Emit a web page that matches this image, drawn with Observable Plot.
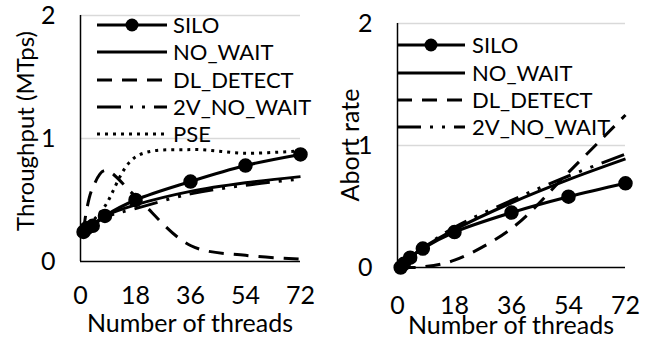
<!DOCTYPE html>
<html>
<head>
<meta charset="utf-8">
<script src="https://cdn.jsdelivr.net/npm/d3@7"></script>
<script src="https://cdn.jsdelivr.net/npm/@observablehq/plot@0.6"></script>
<style>
  html, body { margin: 0; padding: 0; background: #fff; }
  #chart { position: relative; width: 651px; height: 339px; overflow: hidden; font-family: Lato, "Open Sans", sans-serif; }
  #chart svg { position: absolute; top: 0; }
</style>
</head>
<body>
<div id="chart"></div>
<script>
// ---- data ----
const threads = [1, 2, 4, 8, 18, 36, 54, 72];
const xTicks = [0, 18, 36, 54, 72];
const yTicks = [0, 1, 2];
const seriesNames = ["SILO", "NO_WAIT", "DL_DETECT", "2V_NO_WAIT", "PSE"];

// Throughput (MTps)
const tputSILO      = [0.24, 0.27, 0.29, 0.37, 0.50, 0.65, 0.78, 0.87];
const tputNO_WAIT   = [0.24, 0.27, 0.30, 0.37, 0.46, 0.57, 0.64, 0.69];
const tputDL_DETECT = [0.25, 0.42, 0.60, 0.74, 0.53, 0.13, 0.05, 0.02];
const tput2V        = [0.24, 0.27, 0.30, 0.36, 0.43, 0.55, 0.62, 0.67];
const tputPSE       = [0.25, 0.28, 0.33, 0.45, 0.85, 0.91, 0.88, 0.90];

// Abort rate
const abortSILO      = [0.00, 0.03, 0.08, 0.155, 0.29, 0.45, 0.58, 0.69];
const abortNO_WAIT   = [0.00, 0.03, 0.08, 0.16, 0.31, 0.53, 0.72, 0.89];
const abortDL_DETECT = [0.00, 0.00, 0.00, 0.005, 0.06, 0.32, 0.78, 1.25];
const abort2V        = [0.00, 0.03, 0.08, 0.16, 0.33, 0.55, 0.75, 0.93];

// ---- styles ----
const styleOf = {
  "SILO":       {dash: null, marker: true},
  "NO_WAIT":    {dash: null, marker: false},
  "DL_DETECT":  {dash: "15,10", marker: false},
  "2V_NO_WAIT": {dash: "24,9,3,9,3,9", marker: false},
  "PSE":        {dash: "3,5", marker: false}
};
const FONT = "Lato, 'Open Sans', sans-serif";
const FS = 25;
const LEGEND_FS = 22;

function rows(name, values) {
  return threads.map((t, i) => ({series: name, t, v: values[i]}));
}

function seriesMarks(name, values) {
  const d = rows(name, values);
  const st = styleOf[name];
  const m = [Plot.line(d, {x: "t", y: "v", stroke: "#000", strokeWidth: 3,
    strokeDasharray: st.dash || undefined, curve: "catmull-rom", strokeLinecap: "butt"})];
  if (st.marker) m.push(Plot.dot(d, {x: "t", y: "v", r: 6.5, fill: "#000", stroke: "#000"}));
  return m;
}

function panel(opts, series) {
  return Plot.plot({
    width: opts.width, height: 339,
    marginLeft: opts.ml, marginRight: opts.mr, marginTop: opts.mt, marginBottom: opts.mb,
    x: {domain: [0, 72]},
    y: {domain: [0, 2]},
    style: {fontFamily: FONT, fontSize: FS + "px", color: "#000", background: "transparent", overflow: "visible"},
    marks: [
      Plot.gridY({ticks: [1, 2], stroke: "#d9d9d9", strokeOpacity: 1, strokeWidth: 1.5}),
      Plot.axisX({ticks: xTicks, tickFormat: d3.format("d"), tickSize: 0, tickPadding: opts.xpad, label: null, fontSize: FS}),
      Plot.axisY({ticks: yTicks, tickFormat: d3.format("d"), tickSize: 0, tickPadding: 25, label: null, fontSize: FS}),
      Plot.ruleY([0], {stroke: "#000", strokeWidth: 1.5}),
      Plot.ruleX([0], {y1: 0, y2: 2, stroke: "#000", strokeWidth: 1.5}),
      ...series.flatMap(([n, v]) => seriesMarks(n, v))
    ]
  });
}

const chart = document.getElementById("chart");

const left = panel({width: 330, ml: 80, mr: 30, mt: 15, mb: 78, xpad: 25}, [
  ["SILO", tputSILO], ["NO_WAIT", tputNO_WAIT], ["DL_DETECT", tputDL_DETECT],
  ["2V_NO_WAIT", tput2V], ["PSE", tputPSE]
]);
left.style.left = "0px";
chart.appendChild(left);

const right = panel({width: 321, ml: 67, mr: 26, mt: 23, mb: 72, xpad: 29}, [
  ["SILO", abortSILO], ["NO_WAIT", abortNO_WAIT], ["DL_DETECT", abortDL_DETECT],
  ["2V_NO_WAIT", abort2V]
]);
right.style.left = "330px";
chart.appendChild(right);

// ---- overlay: legends and axis titles ----
const ov = d3.select(chart).append("svg")
  .attr("width", 651).attr("height", 339)
  .style("left", "0px").style("pointer-events", "none")
  .attr("font-family", FONT).attr("font-size", FS);

function legend(names, x0, x1, ys, tx) {
  names.forEach((n, i) => {
    const st = styleOf[n];
    const g = ov.append("g");
    g.append("line").attr("x1", x0).attr("x2", x1).attr("y1", ys[i]).attr("y2", ys[i])
      .attr("stroke", "#000").attr("stroke-width", 3)
      .attr("stroke-dasharray", st.dash);
    if (st.marker) g.append("circle").attr("cx", (x0 + x1) / 2).attr("cy", ys[i]).attr("r", 6.5).attr("fill", "#000");
    g.append("text").attr("x", tx).attr("y", ys[i]).attr("dy", "0.36em")
      .attr("font-size", LEGEND_FS).attr("fill", "#000").text(n);
  });
}
legend(seriesNames, 97, 167, [25, 52, 80, 107, 134], 173);
legend(seriesNames.slice(0, 4), 397, 465, [45, 73, 100, 127], 472);

function title(text, x, y, rot, fs) {
  ov.append("text").attr("transform", `translate(${x},${y}) rotate(${rot})`)
    .attr("text-anchor", "middle").attr("dy", "0.36em").attr("font-size", fs)
    .attr("fill", "#000").text(text);
}
title("Number of threads", 190, 323, 0, FS);
title("Number of threads", 511, 325, 0, FS);
title("Throughput (MTps)", 25, 131, -90, 24);
title("Abort rate", 350, 145, -90, FS);
</script>
</body>
</html>
